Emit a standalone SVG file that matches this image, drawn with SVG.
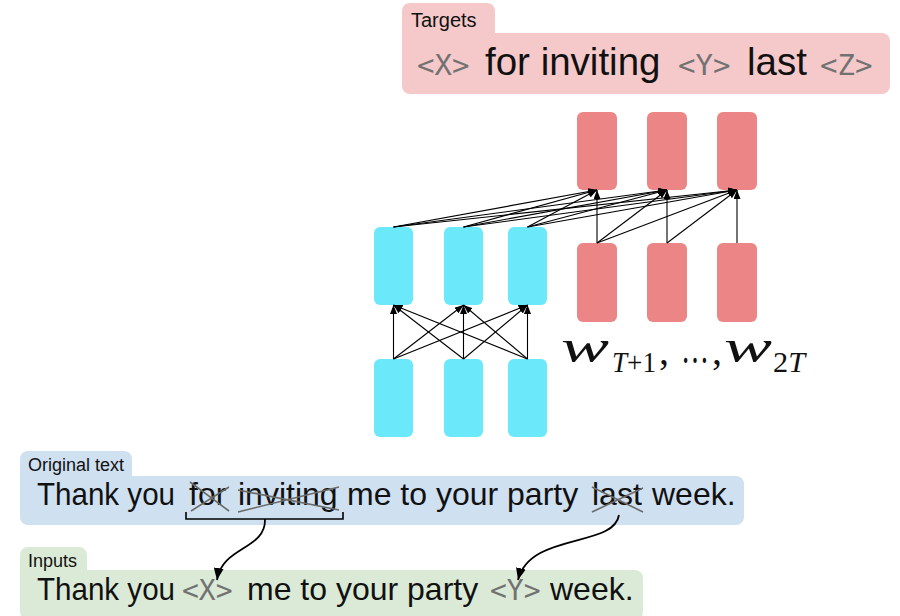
<svg xmlns="http://www.w3.org/2000/svg" width="900" height="616" viewBox="0 0 900 616">
<defs>
<style>
.sans{font-family:"Liberation Sans",Arial,sans-serif;fill:#111}
.tok{font-family:"DejaVu Sans Mono",monospace;fill:#727272}
.math{font-family:"Liberation Serif","DejaVu Serif",serif;fill:#111}
.red{fill:#ec8686}
.cyan{fill:#6be9fb}
.conn line{stroke:#000;stroke-width:1.1;marker-end:url(#ah)}
.cross{stroke:#6a6a6a;stroke-width:1.6;fill:none}
.curve{stroke:#000;stroke-width:1.8;fill:none;marker-end:url(#ah2)}
</style>
<marker id="ah" markerUnits="userSpaceOnUse" markerWidth="9" markerHeight="7" refX="9" refY="3.5" orient="auto"><path d="M0,0 L9,3.5 L0,7 z" fill="#000"/></marker>
<marker id="ah2" markerUnits="userSpaceOnUse" markerWidth="12" markerHeight="10" refX="12" refY="5" orient="auto"><path d="M0,0 L12,5 L0,10 z" fill="#000"/></marker>
</defs>
<rect width="900" height="616" fill="#fff"/>

<g id="targets">
<rect x="402" y="3" width="93" height="44" rx="8" fill="#f5c9ca"/>
<rect x="402" y="33" width="488" height="61" rx="8" fill="#f5c9ca"/>
<text class="sans" x="411" y="27" font-size="20">Targets</text>
<text class="tok" x="417" y="75" font-size="29">&lt;X&gt;</text>
<text class="sans" x="485" y="75" font-size="38.5">for inviting</text>
<text class="tok" x="678" y="75" font-size="29">&lt;Y&gt;</text>
<text class="sans" x="747" y="75" font-size="38.5">last</text>
<text class="tok" x="820" y="75" font-size="29">&lt;Z&gt;</text>
</g>

<g id="dec-out-1"><rect class="red" x="577" y="112" width="40" height="78" rx="6"/></g>
<g id="dec-out-2"><rect class="red" x="647" y="112" width="40" height="78" rx="6"/></g>
<g id="dec-out-3"><rect class="red" x="717" y="112" width="40" height="78" rx="6"/></g>
<g id="dec-in-1"><rect class="red" x="577" y="243" width="40" height="79" rx="6"/></g>
<g id="dec-in-2"><rect class="red" x="647" y="243" width="40" height="79" rx="6"/></g>
<g id="dec-in-3"><rect class="red" x="717" y="243" width="40" height="79" rx="6"/></g>
<g id="enc-out-1"><rect class="cyan" x="374" y="227" width="39" height="78" rx="6"/></g>
<g id="enc-out-2"><rect class="cyan" x="444" y="227" width="39" height="78" rx="6"/></g>
<g id="enc-out-3"><rect class="cyan" x="508" y="227" width="39" height="78" rx="6"/></g>
<g id="enc-in-1"><rect class="cyan" x="374" y="359" width="39" height="78" rx="6"/></g>
<g id="enc-in-2"><rect class="cyan" x="444" y="359" width="39" height="78" rx="6"/></g>
<g id="enc-in-3"><rect class="cyan" x="508" y="359" width="39" height="78" rx="6"/></g>

<g id="formula" class="math">
<text x="561" y="362" font-size="47" font-style="italic" textLength="48" lengthAdjust="spacingAndGlyphs">w</text>
<text x="612" y="372" font-size="30" textLength="44" lengthAdjust="spacingAndGlyphs"><tspan font-style="italic">T</tspan>+1</text>
<text x="659" y="364" font-size="40">,</text>
<text x="681" y="363" font-size="44" textLength="28" lengthAdjust="spacingAndGlyphs">…</text>
<text x="712" y="364" font-size="40">,</text>
<text x="724" y="362" font-size="47" font-style="italic" textLength="48" lengthAdjust="spacingAndGlyphs">w</text>
<text x="773" y="372" font-size="30" textLength="32" lengthAdjust="spacingAndGlyphs">2<tspan font-style="italic">T</tspan></text>
</g>

<g id="connectors">
<g class="conn">
<line x1="393.5" y1="359" x2="393.5" y2="305"/>
<line x1="393.5" y1="359" x2="463.5" y2="305"/>
<line x1="393.5" y1="359" x2="527.5" y2="305"/>
<line x1="463.5" y1="359" x2="393.5" y2="305"/>
<line x1="463.5" y1="359" x2="463.5" y2="305"/>
<line x1="463.5" y1="359" x2="527.5" y2="305"/>
<line x1="527.5" y1="359" x2="393.5" y2="305"/>
<line x1="527.5" y1="359" x2="463.5" y2="305"/>
<line x1="527.5" y1="359" x2="527.5" y2="305"/>
<line x1="393.5" y1="227" x2="597" y2="190"/>
<line x1="393.5" y1="227" x2="667" y2="190"/>
<line x1="393.5" y1="227" x2="737" y2="190"/>
<line x1="463.5" y1="227" x2="597" y2="190"/>
<line x1="463.5" y1="227" x2="667" y2="190"/>
<line x1="463.5" y1="227" x2="737" y2="190"/>
<line x1="527.5" y1="227" x2="597" y2="190"/>
<line x1="527.5" y1="227" x2="667" y2="190"/>
<line x1="527.5" y1="227" x2="737" y2="190"/>
<line x1="597" y1="243" x2="597" y2="190"/>
<line x1="597" y1="243" x2="667" y2="190"/>
<line x1="597" y1="243" x2="737" y2="190"/>
<line x1="667" y1="243" x2="667" y2="190"/>
<line x1="667" y1="243" x2="737" y2="190"/>
<line x1="737" y1="243" x2="737" y2="190"/>
</g>
</g>

<g id="original">
<rect x="20" y="451" width="112" height="40" rx="8" fill="#cfe0f1"/>
<rect x="20" y="476" width="724" height="49" rx="8" fill="#cfe0f1"/>
<text class="sans" x="28" y="471" font-size="18">Original text</text>
<text class="sans" x="37" y="505" font-size="32" textLength="138" lengthAdjust="spacingAndGlyphs">Thank you</text>
<text class="sans" x="189" y="505" font-size="32">for</text>
<text class="sans" x="238" y="505" font-size="32">inviting</text>
<text class="sans" x="347" y="505" font-size="32">me to your party</text>
<text class="sans" x="592" y="505" font-size="32">last</text>
<text class="sans" x="652" y="505" font-size="32">week.</text>
<path class="cross" d="M190,482 L229,511 M191,511 L229,487"/>
<path class="cross" d="M238,490 L339,510 M238,512 L339,487"/>
<path class="cross" d="M592,487 L643,512 M592,512 L643,488"/>
<path d="M186,512 L186,519 L343,519 L343,512" fill="none" stroke="#000" stroke-width="1.6"/>
</g>

<g id="inputs">
<rect x="20" y="547" width="67" height="40" rx="8" fill="#dbead6"/>
<rect x="20" y="570" width="623" height="50" rx="8" fill="#dbead6"/>
<text class="sans" x="28" y="567" font-size="18">Inputs</text>
<text class="sans" x="37" y="600" font-size="32" textLength="138" lengthAdjust="spacingAndGlyphs">Thank you</text>
<text class="tok" x="182" y="600" font-size="28">&lt;X&gt;</text>
<text class="sans" x="247" y="600" font-size="32">me to your party</text>
<text class="tok" x="490" y="600" font-size="28">&lt;Y&gt;</text>
<text class="sans" x="550" y="600" font-size="32">week.</text>
</g>

<g id="mask-arrows">
<path class="curve" d="M265,519 C266,550 222,546 217,580"/>
<path class="curve" d="M619,515 C614,548 530,532 518,580"/>
</g>
</svg>
